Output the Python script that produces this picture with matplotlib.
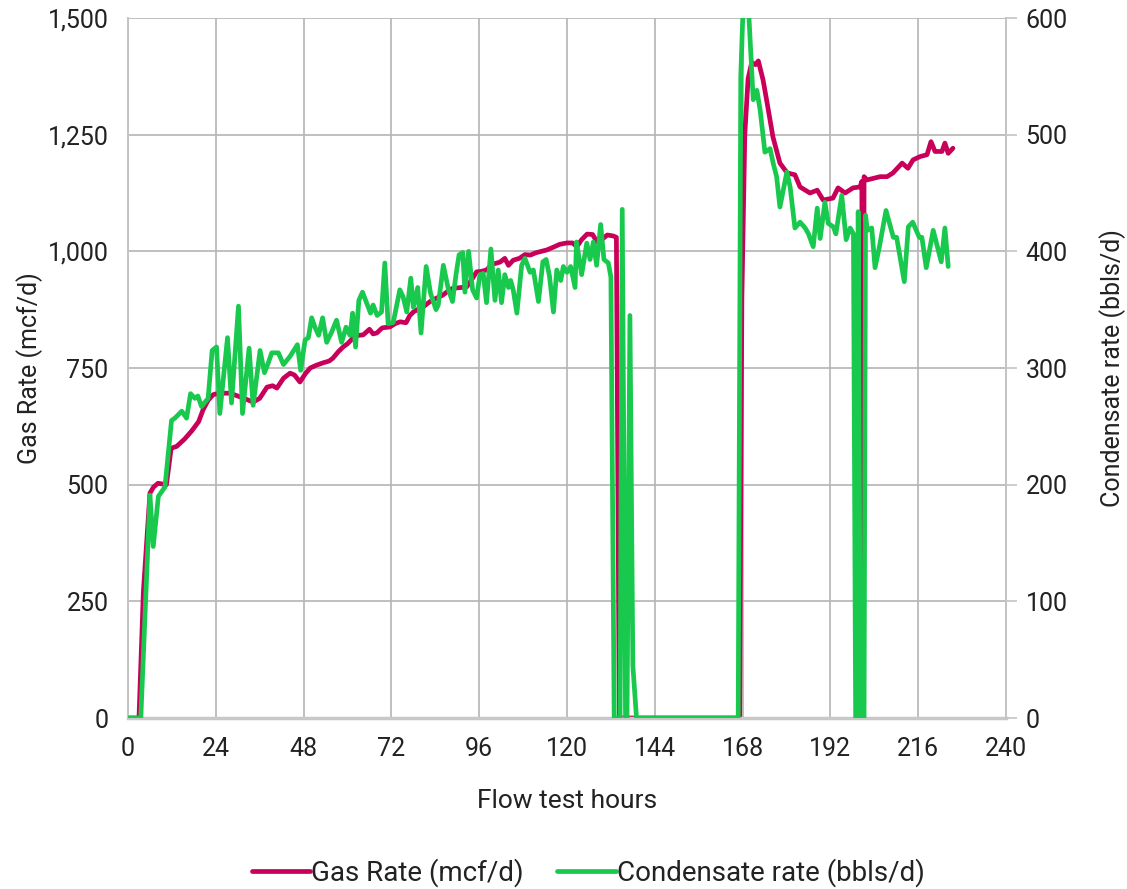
import matplotlib
matplotlib.use("Agg")
import matplotlib.pyplot as plt
from matplotlib.ticker import FuncFormatter, MultipleLocator

plt.rcParams['font.family'] = ['Roboto', 'DejaVu Sans']

# ---- data ----
gas_hours = [0, 3, 4.2, 6, 7, 8.2, 10.5, 11.8, 13.3, 15.5, 17.4, 19.3, 20.5, 21.9, 23.3, 25, 27.9,
             30, 32, 34.2, 36, 38, 39.5, 40.7, 42.5, 44.3, 45.5, 47, 48.5, 49.8, 51.5, 53.3, 55, 56,
             57.5, 58.8, 60, 61.5, 63, 64.3, 66, 67, 68, 69.5, 71.6, 73, 74.4, 76, 77, 78, 79.5,
             80.7, 82.5, 84.4, 86, 87.5, 88.8, 90.5, 92.6, 94, 95.3, 96.5, 98, 99.5, 101.7, 103,
             104, 105.3, 107, 108.5, 110, 111.5, 113, 114.5, 116, 118, 120, 121.5, 122.7, 124,
             125.5, 127, 128.2, 129.5, 131, 132.6, 133.5, 134.3, 150, 167.2, 167.8, 168.6, 169.5,
             170.5, 171.5, 172.3, 173.6, 174.7, 176.3, 178.2, 180.2, 182.3, 183.7, 186.4, 188.4,
             190, 192.7, 194.1, 196, 198.2, 200.1, 200.6, 200.9, 201.2, 202, 205.6, 207.5, 209.1,
             211.6, 213.2, 214.6, 216.5, 218.4, 219.5, 220.6, 222.5, 223.3, 224.2, 225.5]
gas_rate = [0, 0, 270, 482, 495, 503, 500, 578, 582, 598, 615, 635, 660, 681, 693, 696, 696,
            690, 684, 677, 685, 709, 712, 707, 728, 739, 735, 720, 738, 750, 756, 761, 765, 771,
            785, 795, 802, 814, 820, 821, 833, 823, 825, 836, 838, 845, 849, 847, 862, 870, 877,
            881, 892, 900, 906, 915, 921, 922, 924, 940, 956, 957, 960, 972, 977, 985,
            970, 981, 985, 993, 992, 997, 1000, 1003, 1008, 1015, 1018, 1018, 1010, 1025,
            1037, 1036, 1020, 1025, 1035, 1033, 1030, 0, 0, 0, 900, 1250, 1370,
            1405, 1400, 1408, 1367, 1318, 1245, 1189, 1168, 1164, 1138, 1125, 1131,
            1110, 1114, 1136, 1125, 1136, 1138, 1150, 0, 1160, 1153, 1160, 1160, 1168,
            1189, 1178, 1196, 1203, 1207, 1235, 1214, 1214, 1232, 1210, 1221]

cond_hours = [0, 3.5, 6, 6.9, 8.3, 10.1, 11.9, 12.8, 14.7, 16, 17.1, 18.3, 19.1, 20.1, 21.9, 23,
              24.2, 25.1, 27.2, 28.3, 30.2, 31.3, 33.1, 34.2, 36.1, 37.3, 38.3, 39.3, 41.1, 42.5,
              44.3, 46.3, 47.2, 48.4, 49.3, 50.2, 51.1, 52.1, 53.2, 54.3, 55.7, 57, 58.4, 59.6,
              60.7, 61.4, 62.2, 63.1, 64.1, 65.2, 66.3, 67, 68.1, 69.3, 70.2, 71.1, 72.5, 74.3,
              75.2, 76.2, 77.3, 78, 79.2, 80.1, 81.5, 82.7, 84.2, 84.8, 86.2, 87.6, 88.7, 89.7,
              90.5, 91.5, 92.1, 93.1, 94.2, 95.3, 96.2, 97.1, 98, 99.2, 100.3, 101.2, 102.1, 103,
              104, 104.6, 105.3, 106.3, 107.6, 108.5, 109.9, 110.8, 112.2, 113.4, 114.3, 115.2,
              116.3, 117.2, 118.3, 119, 120, 121, 122.2, 122.6, 124, 125.4, 126.3, 127.2, 128.1,
              129.2, 130.1, 131.3, 132, 132.9, 134.5, 135.1, 136, 136.4, 137.2, 138, 139, 166.8,
              167.5, 168.3, 169.5, 170.9, 171.9, 172.8, 174.1, 175.5, 176.4, 177.3, 178.2, 180.1,
              181, 182.3, 183.7, 185.1, 186, 187.3, 188.4, 189.2, 190.5, 191.4, 192.8, 193.5,
              195.1, 196.3, 197.4, 198.3, 198.9, 199.3, 199.6, 200.2, 200.8, 201.2, 201.6, 202.1,
              203.3, 204.2, 205.4, 207.2, 209.2, 210.1, 212.2, 213.3, 214.5, 216.3, 217, 218.2,
              220.1, 222.3, 223.3, 224.2]
cond_rate = [0, 0, 191, 147, 190, 198, 255, 257, 263, 257, 278, 274, 276, 267, 274, 315,
             318, 261, 326, 270, 353, 261, 317, 268, 315, 296, 304, 313, 313, 303,
             310, 320, 298, 324, 326, 343, 335, 328, 343, 322, 331, 341, 322, 335,
             328, 347, 318, 358, 365, 356, 347, 354, 345, 348, 390, 338, 339, 367,
             361, 348, 377, 352, 369, 330, 387, 364, 350, 354, 388, 367, 357, 381,
             397, 399, 365, 400, 367, 360, 380, 381, 356, 402, 358, 384, 356, 380,
             369, 375, 367, 347, 388, 394, 382, 384, 357, 391, 393, 379,
             348, 384, 375, 387, 382, 387, 369, 408, 380, 407, 393, 408, 388,
             423, 393, 390, 378, 0, 0, 436, 0, 0, 345, 45, 0, 0,
             550, 625, 615, 530, 538, 521, 485, 488, 475, 464, 438, 468,
             455, 420, 425, 420, 415, 404, 437, 411, 442, 424, 421, 415,
             448, 410, 420, 415, 0, 0, 434, 0, 0, 0, 431, 418,
             420, 386, 404, 435, 412, 412, 374, 421, 425, 412, 412, 386,
             418, 391, 420, 387]

x_ticks = [0, 24, 48, 72, 96, 120, 144, 168, 192, 216, 240]

gas_color = "#C8005A"
cond_color = "#18C94E"
grid_color = "#B4B4B4"
text_color = "#222222"
FS = 18

fig = plt.figure(figsize=(11.27, 8.89), dpi=100)
ax = fig.add_axes([128 / 1127, 1 - 718 / 889, (1006 - 128) / 1127, 700 / 889])
ax2 = ax.twinx()

ax.set_zorder(1)
ax2.set_zorder(2)
ax.patch.set_visible(False)

l1, = ax.plot(gas_hours, gas_rate, color=gas_color, lw=3.4, solid_joinstyle='round',
              solid_capstyle='round', label="Gas Rate (mcf/d)")
l2, = ax2.plot(cond_hours, cond_rate, color=cond_color, lw=3.4, solid_joinstyle='round',
               solid_capstyle='round', label="Condensate rate (bbls/d)")

ax.set_xlim(0, 240)
ax.set_ylim(0, 1500)
ax2.set_ylim(0, 600)
ax.set_xticks(x_ticks)
ax.yaxis.set_major_locator(MultipleLocator(250))
ax2.yaxis.set_major_locator(MultipleLocator(100))
ax.yaxis.set_major_formatter(FuncFormatter(lambda v, p: f"{int(v):,}"))

ax.grid(True, color=grid_color, lw=1.2)
ax.set_axisbelow(True)

for a in (ax, ax2):
    for s in a.spines.values():
        s.set_color("#C4C4C4")
        s.set_linewidth(1.4)
    a.spines['top'].set_visible(False)
ax.spines['bottom'].set_linewidth(2.5)
ax.spines['bottom'].set_color("#C8C8C8")
ax2.spines['bottom'].set_visible(False)
ax2.spines['left'].set_visible(False)
ax.spines['right'].set_visible(False)

ax.tick_params(axis='x', length=0, labelsize=FS, labelcolor=text_color, pad=14)
ax.tick_params(axis='y', length=0, labelsize=FS, labelcolor=text_color, pad=14)
ax2.tick_params(axis='y', length=8, color="#C4C4C4", width=1.2, labelsize=FS,
                labelcolor=text_color, pad=6)

ax.set_xlabel("Flow test hours", fontsize=19, color=text_color, labelpad=20)
fig.text(30 / 1127, 1 - 368 / 889, "Gas Rate (mcf/d)", rotation=90, ha='center', va='center',
         fontsize=FS, color=text_color)
fig.text(1113 / 1127, 1 - 368 / 889, "Condensate rate (bbls/d)", rotation=90, ha='center',
         va='center', fontsize=FS, color=text_color)

fig.legend([l1, l2], [l1.get_label(), l2.get_label()], loc='center',
           bbox_to_anchor=(0.522, 1 - 873 / 889), ncol=2, frameon=False, fontsize=20,
           handlelength=2.1, handletextpad=0.05, columnspacing=1.2, labelcolor=text_color)

fig.savefig("out.png", dpi=100)
